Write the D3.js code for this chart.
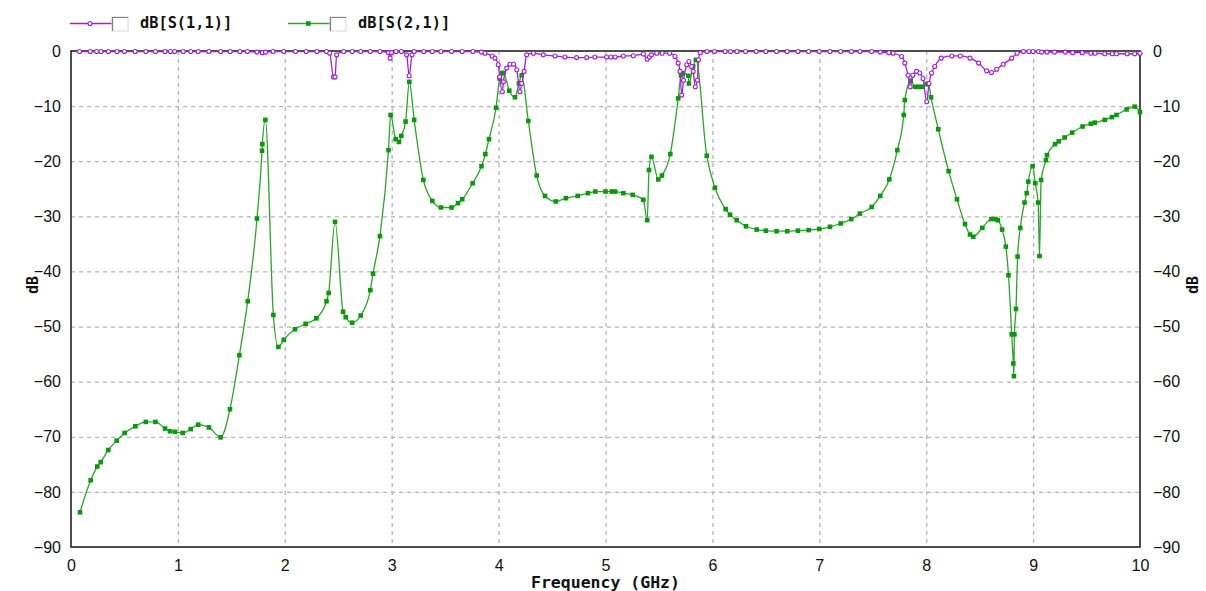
<!DOCTYPE html>
<html><head><meta charset="utf-8">
<script src="https://cdn.jsdelivr.net/npm/d3@7"></script>
<style>
html,body{margin:0;padding:0;background:#fff;}
svg{display:block;}
.tick-l{font-family:"Liberation Sans Narrow","Liberation Sans",Arial,sans-serif;font-size:16px;fill:#111;}
.lbl{font-family:"DejaVu Sans Mono",monospace;font-weight:bold;fill:#111;}
</style></head>
<body>
<svg id="c" width="1206" height="591"></svg>
<script>
// ---- data ----
const xTicks = [0,1,2,3,4,5,6,7,8,9,10];
const yTicks = [0,-10,-20,-30,-40,-50,-60,-70,-80,-90];
const seriesNames = ["dB[S(1,1)]","dB[S(2,1)]"];

const s21Freq = [0.084,0.184,0.246,0.278,0.349,0.427,0.502,0.602,0.70,0.79,0.88,0.926,0.973,1.045,1.12,1.19,1.29,1.40,1.487,1.575,1.653,1.74,1.787,1.79,1.818,1.893,1.94,1.99,2.095,2.195,2.295,2.39,2.41,2.47,2.545,2.57,2.63,2.71,2.80,2.825,2.89,2.97,2.99,3.037,3.068,3.09,3.13,3.165,3.21,3.296,3.38,3.46,3.56,3.62,3.66,3.757,3.84,3.876,3.91,3.976,4.01,4.035,4.045,4.10,4.153,4.19,4.216,4.278,4.356,4.434,4.534,4.63,4.74,4.836,4.905,5.0,5.058,5.09,5.167,5.254,5.354,5.39,5.407,5.43,5.494,5.528,5.606,5.68,5.706,5.72,5.775,5.78,5.82,5.846,5.947,6.024,6.124,6.165,6.227,6.314,6.414,6.5,6.6,6.7,6.8,6.9,7.0,7.1,7.2,7.3,7.38,7.49,7.57,7.655,7.73,7.79,7.80,7.855,7.895,7.93,7.96,8.005,8.02,8.045,8.113,8.21,8.288,8.363,8.41,8.44,8.525,8.61,8.65,8.67,8.71,8.745,8.77,8.80,8.815,8.82,8.825,8.84,8.855,8.88,8.92,8.94,8.955,8.995,9.02,9.047,9.06,9.075,9.12,9.13,9.205,9.24,9.295,9.366,9.463,9.54,9.577,9.67,9.737,9.78,9.875,9.95,10.0];
const s21dB = [-83.7,-77.9,-75.4,-74.6,-72.4,-70.7,-69.3,-68.1,-67.3,-67.3,-68.5,-69.0,-69.1,-69.3,-68.6,-67.8,-68.3,-70.1,-65.0,-55.2,-45.4,-30.4,-18.1,-16.9,-12.5,-47.9,-53.7,-52.4,-50.5,-49.5,-48.5,-45.4,-43.9,-31.0,-47.3,-48.3,-49.3,-48.0,-43.4,-40.4,-33.6,-18.0,-11.6,-16.0,-16.5,-15.4,-12.8,-5.6,-12.5,-23.4,-27.2,-28.4,-28.4,-27.6,-26.9,-24.0,-20.9,-18.7,-16.0,-10.3,-5.0,-4.0,-4.0,-7.2,-8.4,-5.9,-4.4,-12.7,-22.6,-26.3,-27.3,-26.7,-26.3,-25.8,-25.5,-25.5,-25.5,-25.5,-25.8,-26.1,-27.0,-30.7,-21.6,-19.2,-23.3,-22.6,-18.7,-8.6,-4.4,-4.0,-4.5,-5.9,-2.8,-1.6,-19.0,-24.8,-28.7,-29.7,-30.7,-31.8,-32.4,-32.6,-32.7,-32.7,-32.6,-32.5,-32.3,-31.9,-31.3,-30.5,-29.5,-28.3,-26.3,-23.3,-18.0,-11.6,-8.9,-5.4,-6.5,-6.5,-6.5,-6.0,-5.9,-8.4,-14.2,-21.8,-26.9,-31.4,-33.3,-33.7,-32.1,-30.5,-30.5,-30.7,-32.4,-35.5,-40.7,-51.4,-56.7,-59.0,-51.4,-46.8,-37.3,-32.1,-27.5,-25.8,-23.7,-20.9,-24.0,-27.5,-37.2,-23.4,-19.8,-18.9,-16.9,-16.4,-15.7,-14.8,-13.7,-13.2,-13.0,-12.5,-12.0,-11.6,-10.6,-10.1,-11.1];

const s11Freq = [0.08,0.18,0.24,0.28,0.35,0.43,0.5,0.6,0.7,0.79,0.88,0.93,0.97,1.05,1.12,1.19,1.29,1.4,1.49,1.58,1.65,1.74,1.79,1.82,1.89,1.99,2.1,2.2,2.3,2.39,2.42,2.455,2.47,2.485,2.55,2.63,2.71,2.8,2.89,2.97,2.985,3.0,3.04,3.09,3.14,3.163,3.19,3.21,3.3,3.38,3.46,3.56,3.66,3.76,3.84,3.873,3.94,3.966,3.997,4.01,4.035,4.045,4.076,4.107,4.14,4.17,4.2,4.216,4.238,4.263,4.325,4.418,4.528,4.62,4.73,4.824,4.9,5.01,5.05,5.09,5.167,5.26,5.354,5.39,5.41,5.43,5.48,5.53,5.6,5.65,5.68,5.697,5.713,5.73,5.76,5.78,5.805,5.82,5.84,5.86,5.87,5.886,5.95,6.02,6.12,6.17,6.23,6.31,6.41,6.5,6.6,6.7,6.8,6.9,7.0,7.1,7.2,7.3,7.38,7.49,7.57,7.65,7.69,7.77,7.80,7.83,7.85,7.875,7.91,7.94,7.97,8.005,8.026,8.05,8.08,8.14,8.24,8.32,8.41,8.49,8.565,8.61,8.66,8.72,8.80,8.85,8.91,8.96,9.0,9.05,9.08,9.13,9.2,9.3,9.37,9.46,9.54,9.58,9.67,9.74,9.78,9.88,9.95,10.0];
const s11dB = [-0.1,-0.1,-0.1,-0.1,-0.1,-0.1,-0.1,-0.1,-0.1,-0.1,-0.1,-0.1,-0.1,-0.1,-0.1,-0.1,-0.1,-0.1,-0.1,-0.1,-0.1,-0.2,-0.3,-0.2,-0.1,-0.1,-0.1,-0.1,-0.1,-0.1,-0.4,-4.7,-4.7,-0.7,-0.1,-0.1,-0.1,-0.1,-0.1,-0.3,-1.3,-0.3,-0.1,-0.1,-0.7,-4.5,-0.7,-0.1,-0.1,-0.1,-0.1,-0.1,-0.1,-0.1,-0.2,-0.4,-0.9,-1.3,-2.5,-4.7,-7.4,-5.6,-3.1,-2.4,-2.4,-3.4,-7.4,-5.9,-3.7,-0.7,-0.4,-0.7,-0.9,-1.1,-1.2,-1.2,-1.1,-1.1,-1.1,-1.1,-0.9,-0.85,-0.55,-1.5,-1.1,-0.7,-0.4,-0.4,-0.4,-1.0,-2.2,-3.7,-8.0,-5.3,-2.5,-1.9,-2.8,-3.7,-6.5,-5.3,-1.6,-0.3,-0.1,-0.1,-0.1,-0.1,-0.1,-0.1,-0.1,-0.1,-0.1,-0.1,-0.1,-0.1,-0.1,-0.1,-0.1,-0.1,-0.1,-0.1,-0.2,-0.3,-0.4,-1.0,-2.2,-4.4,-6.5,-4.4,-3.7,-4.0,-5.0,-9.2,-5.9,-4.0,-2.8,-1.3,-0.9,-0.9,-1.3,-2.2,-3.6,-3.9,-3.3,-2.4,-1.3,-0.4,-0.1,-0.1,-0.1,-0.1,-0.2,-0.2,-0.2,-0.2,-0.3,-0.3,-0.4,-0.4,-0.5,-0.5,-0.5,-0.5,-0.5,-0.4];

// ---- drawing ----
const svg = d3.select("#c");
const L = 71, R = 1140, T = 51, B = 547;
const x = d3.scaleLinear().domain([0,10]).range([L,R]);
const y = d3.scaleLinear().domain([-90,0]).range([B,T]);
const purple = "#a21fd8", green = "#2aa62a", greenMk = "#0a990a";

// grid
const g = svg.append("g");
g.selectAll(".vg").data(xTicks.filter(d=>d>0&&d<10)).enter().append("line")
  .attr("x1",d=>x(d)+0.5).attr("x2",d=>x(d)+0.5).attr("y1",T).attr("y2",B)
  .attr("stroke","#b4b4b4").attr("stroke-width",1.3).attr("stroke-dasharray","4,4");
g.selectAll(".hg").data(yTicks.filter(d=>d<0&&d>-90)).enter().append("line")
  .attr("x1",L).attr("x2",R).attr("y1",d=>y(d)+0.5).attr("y2",d=>y(d)+0.5)
  .attr("stroke","#b4b4b4").attr("stroke-width",1.3).attr("stroke-dasharray","4,4");

// axes
const axL = d3.axisLeft(y).tickValues(yTicks).tickSize(0).tickPadding(10);
const axR = d3.axisRight(y).tickValues(yTicks).tickSize(0).tickPadding(13);
const axB = d3.axisBottom(x).tickValues(xTicks).tickSize(0).tickPadding(13);
function style(sel){ sel.select(".domain").remove(); sel.selectAll("text").attr("class","tick-l").attr("fill","#111"); }
svg.append("g").attr("transform",`translate(${L},0)`).call(axL).call(style);
svg.append("g").attr("transform",`translate(${R},0)`).call(axR).call(style);
svg.append("g").attr("transform",`translate(0,${B})`).call(axB).call(style);

// frame
svg.append("rect").attr("x",L).attr("y",T).attr("width",R-L).attr("height",B-T)
  .attr("fill","none").attr("stroke","#222").attr("stroke-width",1.6);

const line = d3.line().x(d=>x(d[0])).y(d=>y(d[1])).curve(d3.curveMonotoneX);
const s21 = s21Freq.map((f,i)=>[f,s21dB[i]]);
const s11 = s11Freq.map((f,i)=>[f,s11dB[i]]);

svg.append("path").datum(s21).attr("d",line).attr("fill","none").attr("stroke",green).attr("stroke-width",1.3);
svg.selectAll(".m21").data(s21).enter().append("rect")
  .attr("x",d=>x(d[0])-2.3).attr("y",d=>y(d[1])-2.3).attr("width",4.6).attr("height",4.6).attr("fill",greenMk);

svg.append("path").datum(s11).attr("d",line).attr("fill","none").attr("stroke",purple).attr("stroke-width",1.3);
svg.selectAll(".m11").data(s11).enter().append("circle")
  .attr("cx",d=>x(d[0])).attr("cy",d=>y(d[1])).attr("r",2).attr("fill","#fff").attr("stroke",purple).attr("stroke-width",1.1);

// axis titles
svg.append("text").attr("class","lbl").attr("x",(L+R)/2).attr("y",588).attr("text-anchor","middle")
  .attr("font-size","16.5px").text("Frequency (GHz)");
svg.append("text").attr("class","lbl").attr("transform","translate(38,285) rotate(-90)").attr("text-anchor","middle")
  .attr("font-size","15px").text("dB");
svg.append("text").attr("class","lbl").attr("transform","translate(1198,285) rotate(-90)").attr("text-anchor","middle")
  .attr("font-size","15px").text("dB");

// legend
const leg = [{name:seriesNames[0],x0:70,c:purple,mk:"c"},{name:seriesNames[1],x0:288,c:green,mk:"s"}];
leg.forEach(l=>{
  const gg = svg.append("g");
  gg.append("line").attr("x1",l.x0).attr("x2",l.x0+42).attr("y1",23.5).attr("y2",23.5).attr("stroke",l.c).attr("stroke-width",1.3);
  if(l.mk==="c") gg.append("circle").attr("cx",l.x0+20).attr("cy",23.5).attr("r",2).attr("fill","#fff").attr("stroke",l.c).attr("stroke-width",1.1);
  else gg.append("rect").attr("x",l.x0+18).attr("y",21.2).attr("width",4.6).attr("height",4.6).attr("fill",greenMk);
  const bx = l.x0+42;
  gg.append("rect").attr("x",bx).attr("y",17).attr("width",16).attr("height",14).attr("fill","#fff").attr("stroke","#d8d8d8");
  gg.append("path").attr("d",`M${bx+0.5},${31}V${17.5}H${bx+16}`).attr("fill","none").attr("stroke","#808080").attr("stroke-width",1.2);
  gg.append("text").attr("class","lbl").attr("x",bx+28).attr("y",28).attr("font-size","15.3px").text(l.name);
});
</script>
</body></html>
